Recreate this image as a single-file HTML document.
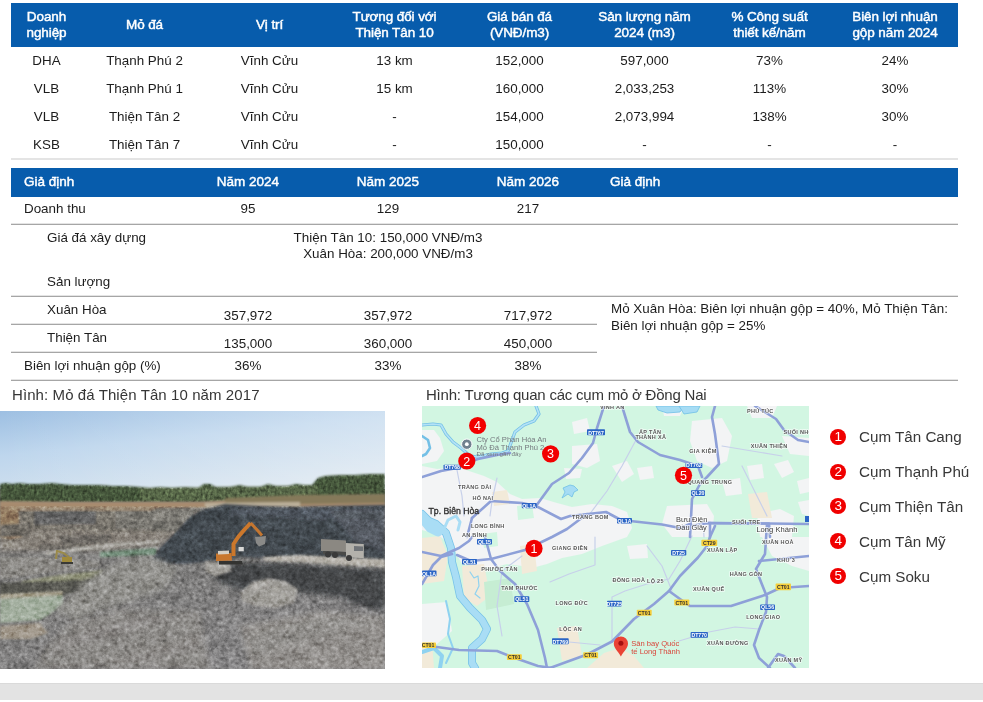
<!DOCTYPE html>
<html><head><meta charset="utf-8">
<style>
*{margin:0;padding:0;box-sizing:border-box}
html,body{width:983px;height:702px;overflow:hidden;background:#fff}
body{position:relative;font-family:"Liberation Sans",sans-serif;color:#1c1c1c;font-size:13.4px}
.a{position:absolute;white-space:nowrap}
.hd{position:absolute;background:#075cac;color:#fff;font-weight:700}
.c{position:absolute;text-align:center;white-space:nowrap}
.h1 .c{font-size:13.5px;letter-spacing:-0.1px;line-height:16px;font-weight:400;-webkit-text-stroke:0.45px #fff}
.ln{position:absolute;height:1px;background:#a6a6a6;box-shadow:0 -1px 0 #e4e4e4}
.cap{position:absolute;font-size:15px;color:#363636;white-space:nowrap}
.lg{position:absolute;left:830px;width:16.4px;height:16.4px;border-radius:50%;background:#f00000;color:#fff;font-size:13.5px;line-height:16.4px;text-align:center}
.lt{position:absolute;left:859px;font-size:15.2px;color:#383838;white-space:nowrap}
</style></head><body>

<!-- Table 1 header -->
<div class="hd h1" style="left:11px;top:3px;width:947px;height:44px">
  <div class="c" style="left:0;width:71px;top:6px">Doanh<br>nghiệp</div>
  <div class="c" style="left:71px;width:125px;top:14px">Mỏ đá</div>
  <div class="c" style="left:196px;width:125px;top:14px">Vị trí</div>
  <div class="c" style="left:321px;width:125px;top:6px">Tương đối với<br>Thiện Tân 10</div>
  <div class="c" style="left:446px;width:125px;top:6px">Giá bán đá<br>(VNĐ/m3)</div>
  <div class="c" style="left:571px;width:125px;top:6px">Sản lượng năm<br>2024 (m3)</div>
  <div class="c" style="left:696px;width:125px;top:6px">% Công suất<br>thiết kế/năm</div>
  <div class="c" style="left:821px;width:126px;top:6px">Biên lợi nhuận<br>gộp năm 2024</div>
</div>

<!-- Table 1 rows -->
<div id="t1" style="position:absolute;left:11px;top:47px;width:947px">
  <div style="position:absolute;top:0;height:28px;width:947px">
    <div class="c" style="left:0;width:71px;top:6px">DHA</div><div class="c" style="left:71px;width:125px;top:6px">Thạnh Phú 2</div><div class="c" style="left:196px;width:125px;top:6px">Vĩnh Cửu</div><div class="c" style="left:321px;width:125px;top:6px">13 km</div><div class="c" style="left:446px;width:125px;top:6px">152,000</div><div class="c" style="left:571px;width:125px;top:6px">597,000</div><div class="c" style="left:696px;width:125px;top:6px">73%</div><div class="c" style="left:821px;width:126px;top:6px">24%</div>
  </div>
  <div style="position:absolute;top:28px;height:28px;width:947px">
    <div class="c" style="left:0;width:71px;top:6px">VLB</div><div class="c" style="left:71px;width:125px;top:6px">Thạnh Phú 1</div><div class="c" style="left:196px;width:125px;top:6px">Vĩnh Cửu</div><div class="c" style="left:321px;width:125px;top:6px">15 km</div><div class="c" style="left:446px;width:125px;top:6px">160,000</div><div class="c" style="left:571px;width:125px;top:6px">2,033,253</div><div class="c" style="left:696px;width:125px;top:6px">113%</div><div class="c" style="left:821px;width:126px;top:6px">30%</div>
  </div>
  <div style="position:absolute;top:56px;height:28px;width:947px">
    <div class="c" style="left:0;width:71px;top:6px">VLB</div><div class="c" style="left:71px;width:125px;top:6px">Thiện Tân 2</div><div class="c" style="left:196px;width:125px;top:6px">Vĩnh Cửu</div><div class="c" style="left:321px;width:125px;top:6px">-</div><div class="c" style="left:446px;width:125px;top:6px">154,000</div><div class="c" style="left:571px;width:125px;top:6px">2,073,994</div><div class="c" style="left:696px;width:125px;top:6px">138%</div><div class="c" style="left:821px;width:126px;top:6px">30%</div>
  </div>
  <div style="position:absolute;top:84px;height:28px;width:947px">
    <div class="c" style="left:0;width:71px;top:6px">KSB</div><div class="c" style="left:71px;width:125px;top:6px">Thiện Tân 7</div><div class="c" style="left:196px;width:125px;top:6px">Vĩnh Cửu</div><div class="c" style="left:321px;width:125px;top:6px">-</div><div class="c" style="left:446px;width:125px;top:6px">150,000</div><div class="c" style="left:571px;width:125px;top:6px">-</div><div class="c" style="left:696px;width:125px;top:6px">-</div><div class="c" style="left:821px;width:126px;top:6px">-</div>
  </div>
</div>
<div class="ln" style="left:11px;top:159px;width:947px;background:#e4e4e4"></div>

<!-- Table 2 header -->
<div class="hd" style="left:11px;top:168px;width:947px;height:29px;font-size:13.5px;font-weight:400;-webkit-text-stroke:0.45px #fff">
  <div class="a" style="left:13px;top:6px">Giả định</div>
  <div class="c" style="left:167px;width:140px;top:6px">Năm 2024</div>
  <div class="c" style="left:307px;width:140px;top:6px">Năm 2025</div>
  <div class="c" style="left:447px;width:140px;top:6px">Năm 2026</div>
  <div class="a" style="left:599px;top:6px">Giả định</div>
</div>

<!-- Table 2 body -->
<div class="a" style="left:24px;top:201px">Doanh thu</div>
<div class="c" style="left:178px;width:140px;top:201px">95</div>
<div class="c" style="left:318px;width:140px;top:201px">129</div>
<div class="c" style="left:458px;width:140px;top:201px">217</div>
<div class="ln" style="left:11px;top:224px;width:947px"></div>

<div class="a" style="left:47px;top:230px">Giá đá xây dựng</div>
<div class="c" style="left:288px;width:200px;top:230px;line-height:16px">Thiện Tân 10: 150,000 VNĐ/m3<br>Xuân Hòa: 200,000 VNĐ/m3</div>
<div class="a" style="left:47px;top:274px">Sản lượng</div>
<div class="ln" style="left:11px;top:296px;width:947px"></div>

<div class="a" style="left:47px;top:302px">Xuân Hòa</div>
<div class="c" style="left:178px;width:140px;top:308px">357,972</div>
<div class="c" style="left:318px;width:140px;top:308px">357,972</div>
<div class="c" style="left:458px;width:140px;top:308px">717,972</div>
<div class="a" style="left:611px;top:301px;line-height:16.6px">Mỏ Xuân Hòa: Biên lợi nhuận gộp = 40%, Mỏ Thiện Tân:<br>Biên lợi nhuận gộp = 25%</div>
<div class="ln" style="left:11px;top:324px;width:586px"></div>

<div class="a" style="left:47px;top:330px">Thiện Tân</div>
<div class="c" style="left:178px;width:140px;top:336px">135,000</div>
<div class="c" style="left:318px;width:140px;top:336px">360,000</div>
<div class="c" style="left:458px;width:140px;top:336px">450,000</div>
<div class="ln" style="left:11px;top:352px;width:586px"></div>

<div class="a" style="left:24px;top:358px">Biên lợi nhuận gộp (%)</div>
<div class="c" style="left:178px;width:140px;top:358px">36%</div>
<div class="c" style="left:318px;width:140px;top:358px">33%</div>
<div class="c" style="left:458px;width:140px;top:358px">38%</div>
<div class="ln" style="left:11px;top:380px;width:947px"></div>

<!-- Captions -->
<div class="cap" style="left:12px;top:386px;letter-spacing:0.09px">Hình: Mỏ đá Thiện Tân 10 năm 2017</div>
<div class="cap" style="left:426px;top:386px;letter-spacing:-0.22px">Hình: Tương quan các cụm mỏ ở Đồng Nai</div>

<!-- PHOTO -->
<svg width="385" height="258" viewBox="0 0 385 258" style="position:absolute;left:0;top:411px">
<defs>
<linearGradient id="sky" x1="0" y1="0" x2="0.5" y2="1">
<stop offset="0" stop-color="#9dbfe2"/><stop offset="0.45" stop-color="#bed6ed"/><stop offset="1" stop-color="#d6e3ee"/>
</linearGradient>
<linearGradient id="skyr" x1="0" y1="0" x2="1" y2="0">
<stop offset="0" stop-color="#ffffff" stop-opacity="0"/><stop offset="1" stop-color="#ffffff" stop-opacity="0.3"/>
</linearGradient>
<linearGradient id="floor" x1="0" y1="0" x2="0.6" y2="1">
<stop offset="0" stop-color="#838280"/><stop offset="0.5" stop-color="#7c7b7a"/><stop offset="1" stop-color="#868586"/>
</linearGradient>
<filter id="gn" x="0" y="0" width="100%" height="100%" color-interpolation-filters="sRGB">
<feTurbulence type="fractalNoise" baseFrequency="0.28" numOctaves="3" seed="4"/>
<feColorMatrix type="matrix" values="0.55 0.55 0.55 0 -0.325  0.55 0.55 0.55 0 -0.325  0.55 0.55 0.55 0 -0.325  0 0 0 0 1"/>
</filter>
<filter id="gn2" x="0" y="0" width="100%" height="100%" color-interpolation-filters="sRGB">
<feTurbulence type="fractalNoise" baseFrequency="0.1" numOctaves="2" seed="9"/>
<feColorMatrix type="matrix" values="0.5 0.5 0.5 0 -0.25  0.5 0.5 0.5 0 -0.25  0.5 0.5 0.5 0 -0.25  0 0 0 0 1"/>
</filter>
<filter id="tn" x="0" y="0" width="100%" height="100%" color-interpolation-filters="sRGB">
<feTurbulence type="fractalNoise" baseFrequency="0.35 0.28" numOctaves="2" seed="5"/>
<feColorMatrix type="matrix" values="0.6 0.6 0.6 0 -0.4  0.6 0.6 0.6 0 -0.4  0.6 0.6 0.6 0 -0.4  0 0 0 0 1"/><feComposite in2="SourceGraphic" operator="in"/>
</filter>
<filter id="bl"><feGaussianBlur stdDeviation="1"/></filter>
<filter id="bl2"><feGaussianBlur stdDeviation="2.5"/></filter>
<clipPath id="qc"><rect x="0" y="95" width="385" height="163"/></clipPath>
<clipPath id="tc"><path d="M0 73 L6 72 L12 73 L20 72 L28 73 L40 73 L52 72 L60 73 L72 74 L85 74 L100 74 L112 75 L125 75 L140 76 L150 77 L160 76 L172 77 L185 76 L198 77 L204 73 L210 73 L216 76 L230 76 L240 74 L248 76 L260 76 L268 73 L276 75 L288 75 L296 73 L304 74 L312 74 L318 67 L325 65 L340 64 L355 64 L370 63 L385 63 L385 84 L320 86 L250 88 L230 90 L200 91 L150 91 L100 91 L50 91 L0 91 Z"/></clipPath>
</defs>
<!-- sky -->
<rect x="0" y="0" width="385" height="80" fill="url(#sky)"/>
<rect x="0" y="0" width="385" height="80" fill="url(#skyr)"/>
<!-- quarry floor base -->
<rect x="0" y="78" width="385" height="180" fill="url(#floor)"/>
<!-- trees band -->
<g filter="url(#bl)">
<path d="M0 73 L6 72 L12 73 L20 72 L28 73 L40 73 L52 72 L60 73 L72 74 L85 74 L100 74 L112 75 L125 75 L140 76 L150 77 L160 76 L172 77 L185 76 L198 77 L204 73 L210 73 L216 76 L230 76 L240 74 L248 76 L260 76 L268 73 L276 75 L288 75 L296 73 L304 74 L312 74 L318 67 L325 65 L340 64 L355 64 L370 63 L385 63 L385 84 L320 86 L250 88 L230 90 L200 91 L150 91 L100 91 L50 91 L0 91 Z" fill="#44573a"/>
<path d="M140 77 L318 74 L318 90 L140 91 Z" fill="#6d7b58" opacity="0.45"/>
</g>
<path d="M0 73 L6 72 L12 73 L20 72 L28 73 L40 73 L52 72 L60 73 L72 74 L85 74 L100 74 L112 75 L125 75 L140 76 L150 77 L160 76 L172 77 L185 76 L198 77 L204 73 L210 73 L216 76 L230 76 L240 74 L248 76 L260 76 L268 73 L276 75 L288 75 L296 73 L304 74 L312 74 L318 67 L325 65 L340 64 L355 64 L370 63 L385 63 L385 84 L320 86 L250 88 L230 90 L200 91 L150 91 L100 91 L50 91 L0 91 Z" fill="#fff" filter="url(#tn)" style="mix-blend-mode:overlay" opacity="0.55"/>
<!-- brown scrub band -->
<g filter="url(#bl)">
<path d="M0 90 L60 91 L130 91 L200 91 L250 88 L300 86 L385 85 L385 95 L300 96 L250 97 L200 97 L150 97 L100 97 L40 97 L0 97 Z" fill="#a88c70"/>
<path d="M225 87 L300 84 L385 83 L385 92 L300 93 L225 94 Z" fill="#85795a"/>
<path d="M0 96 L18 96 L20 118 L22 126 L10 128 L0 126 Z" fill="#947d62"/>
<path d="M205 92 L300 91 L300 98 L205 99 Z" fill="#bcb09a"/>
</g>
<!-- back wall of quarry -->
<g filter="url(#bl)">
<path d="M20 99 L200 97 L215 99 L205 110 L190 122 L120 121 L60 120 L20 118 Z" fill="#727270"/>
<path d="M34 100 L96 99 L96 113 L34 114 Z" fill="#575d65"/>
<path d="M115 99 L195 98 L190 118 L170 120 L115 118 Z" fill="#727475"/>
<path d="M0 114 L30 112 L30 125 L0 126 Z" fill="#5e6061"/>
<path d="M60 125 L110 124 L108 132 L62 133 Z" fill="#5f6162"/>
<path d="M40 133 L90 135 L80 142 L40 141 Z" fill="#6a6b6b"/>
</g>
<path d="M0 96 L200 96 L190 120 L160 135 L100 140 L0 140 Z" fill="#9a8468" opacity="0.22" filter="url(#bl2)"/>
<path d="M0 96 L160 96 L150 100 L0 100 Z" fill="#a08a70" opacity="0.7" filter="url(#bl)"/>
<!-- light road (upper-left) & pools -->
<g filter="url(#bl)">
<path d="M44 141 L80 136 L120 132 L160 129 L160 132 L120 135 L80 140 L46 144 Z" fill="#b3b1ab"/>
<path d="M0 163 L30 156 L60 150 L60 153 L30 160 L0 167 Z" fill="#9d9b96"/>
<path d="M100 141 L156 137 L157 144 L100 146 Z" fill="#748f7b"/>
<path d="M0 146 L40 146 L70 148 L100 150 L100 156 L60 160 L20 166 L0 168 Z" fill="#8c8a86"/>
<path d="M22 170 L60 164 L103 159 L103 167 L60 171 L22 176 Z" fill="#90927a"/>
<path d="M0 172 L22 171 L60 170 L100 168 L90 180 L60 184 L30 186 L0 186 Z" fill="#54544f"/>
</g>
<!-- big water pool -->
<g filter="url(#bl)">
<path d="M0 188 L30 186 L63 184 L63 194 L50 203 L40 209 L0 212 Z" fill="#a2ae9e"/>
<path d="M0 183 L63 180 L63 184 L0 188 Z" fill="#aba593"/>
<path d="M0 215 L40 212 L48 222 L30 228 L0 228 Z" fill="#a0978a"/>
</g>
<!-- dark cliff -->
<g filter="url(#bl)">
<path d="M150 152 L160 137 L175 122 L190 106 L205 98 L225 93 L260 95 L300 96 L340 95 L385 94 L385 152 L340 147 L300 146 L265 147 L240 146 L215 150 L185 153 Z" fill="#434850"/>
<path d="M230 97 L385 96 L385 110 L300 108 L230 104 Z" fill="#545a62" opacity="0.8"/>
<path d="M330 100 L385 99 L385 140 L355 130 Z" fill="#575d65" opacity="0.8"/>
</g>
<!-- rubble pile middle -->
<g filter="url(#bl2)">
<path d="M55 200 L80 175 L100 160 L120 150 L140 145 L160 148 L178 158 L165 178 L130 190 L100 200 L75 210 Z" fill="#8f8e8a"/>
</g>
<!-- road right -->
<g filter="url(#bl)">
<path d="M262 146 L300 144 L340 146 L385 148 L385 157 L340 155 L300 152 L265 151 Z" fill="#b7b3ab"/>
</g>
<!-- shadow under road -->
<g filter="url(#bl2)">
<path d="M215 153 L265 152 L300 153 L340 156 L385 158 L385 200 L362 195 L340 186 L300 181 L270 177 L240 179 L222 172 L210 163 Z" fill="#44464a"/>
</g>
<g filter="url(#bl)">
<path d="M240 182 L252 171 L268 167 L285 170 L298 178 L294 192 L276 197 L255 195 L242 190 Z" fill="#9b9994"/>
<circle cx="256" cy="176" r="3" fill="#b3b1ac"/><circle cx="266" cy="174" r="3.2" fill="#aeaca7"/><circle cx="276" cy="178" r="3" fill="#b5b3ae"/><circle cx="262" cy="184" r="3" fill="#a7a5a0"/><circle cx="284" cy="184" r="2.6" fill="#acaaa5"/><circle cx="272" cy="188" r="2.6" fill="#a09e99"/>
<path d="M205 150 L228 150 L232 160 L215 166 L205 160 Z" fill="#9c9a95"/>
</g>
<!-- lower floor lighter regions -->
<g filter="url(#bl2)" opacity="0.7">
<path d="M240 215 L320 200 L385 205 L385 258 L250 258 Z" fill="#96938e"/>
<path d="M45 236 L70 212 L120 198 L200 200 L210 258 L35 258 Z" fill="#908d89"/>
</g>
<!-- noise texture -->
<rect x="0" y="95" width="385" height="163" filter="url(#gn2)" style="mix-blend-mode:overlay" opacity="0.3"/>
<rect x="0" y="95" width="385" height="163" filter="url(#gn)" style="mix-blend-mode:overlay" opacity="0.38"/>
<!-- excavator (orange) -->
<g>
<path d="M219 150 L242 150 L243 153.5 L219 153.5 Z" fill="#333331"/>
<path d="M216 142.5 L231.5 142 L232 149.5 L216 150 Z" fill="#c8772e"/>
<path d="M218 140 L229 139.5 L229 143 L218 143.5 Z" fill="#d5cfc4"/>
<path d="M233.5 145 L233.5 133 L238.5 125.5 L245 118 L250.6 112" stroke="#cc782c" stroke-width="4" fill="none" stroke-linejoin="round"/>
<path d="M250.6 112 L256.3 118 L262 124.6" stroke="#c47630" stroke-width="3" fill="none" stroke-linejoin="round"/>
<path d="M255 126 L266 125 L265 133 L259 135.5 L256 132 Z" fill="#8a8a88"/>
<path d="M238.5 136 L243.8 136 L243.8 140.3 L238.5 140.3 Z" fill="#d8d8d6"/>
</g>
<!-- small yellow excavator left -->
<path d="M55 148 L56 139 L58 139 L57 148 Z" fill="#9a8a4a"/><path d="M57 139 L64 141 L70 146 L69 147 L63 143 L57 141 Z" fill="#9a8a4a"/><path d="M62 146 L72 146 L72 151 L62 151 Z" fill="#a08a3a"/><path d="M61 151 L73 151 L73 153 L61 153 Z" fill="#3a3a36"/>
<!-- truck -->
<g>
<path d="M321 128 L346 129.5 L346 141 L321 140 Z" fill="#8b8882"/>
<path d="M345.9 132 L363.8 133 L363.8 147.2 L345.9 146 Z" fill="#b3b1ab"/>
<path d="M354 135 L363 135.5 L363 140 L354 140 Z" fill="#6f7377"/>
<path d="M323 140 L346 141 L346 144 L323 143 Z" fill="#4a4a48"/>
<circle cx="328" cy="143.5" r="3" fill="#3a3a3a"/><circle cx="335" cy="144" r="3" fill="#3a3a3a"/><circle cx="349" cy="147" r="3" fill="#3a3a3a"/>
</g>
</svg>

<!-- MAP -->
<svg width="387" height="262" viewBox="0 0 387 262" style="position:absolute;left:422px;top:406px;font-family:'Liberation Sans',sans-serif">
<defs>
<filter id="mb"><feGaussianBlur stdDeviation="0.5"/></filter>
</defs>
<rect width="387" height="262" fill="#d2f6e2"/>
<g filter="url(#mb)">
<!-- white / urban areas -->
<g fill="#f3f4f5">
<path d="M0 60 L15 63 L35 61 L50 66 L62 70 L75 76 L88 88 L100 93 L118 92 L135 97 L150 101 L170 98 L190 100 L205 106 L210 122 L205 131 L180 140 L160 148 L140 152 L125 158 L110 162 L100 160 L85 158 L70 162 L55 160 L40 158 L30 140 L15 128 L0 124 Z"/>
<path d="M0 24 L12 24 L18 32 L22 45 L15 55 L0 58 Z"/>
<path d="M150 40 L175 38 L178 55 L165 62 L150 58 Z"/>
<path d="M142 62 L160 63 L158 72 L144 73 Z"/>
<path d="M245 100 L285 98 L292 110 L290 131 L250 131 L240 118 Z"/>
<path d="M270 15 L300 12 L310 30 L305 55 L290 62 L275 55 L268 35 Z"/>
<path d="M335 108 L358 103 L372 110 L370 131 L338 131 Z"/><path d="M376 96 L387 94 L387 110 L380 108 Z"/>
<path d="M352 58 L366 54 L372 66 L360 72 Z"/><path d="M375 75 L387 72 L387 86 L378 88 Z"/>
<path d="M340 131 L387 131 L387 165 L370 160 L350 150 Z"/>
<path d="M240 0 L262 0 L258 10 L242 10 Z"/>
<path d="M325 0 L355 0 L350 12 L330 12 Z"/>
<path d="M0 198 L25 196 L30 225 L15 238 L0 238 Z"/>
<path d="M190 60 L205 55 L212 68 L200 76 Z"/>
<path d="M215 62 L230 60 L232 72 L218 74 Z"/>
<path d="M300 75 L318 72 L320 88 L304 90 Z"/>
<path d="M325 60 L340 58 L342 72 L328 74 Z"/>
<path d="M360 30 L387 32 L387 50 L368 48 Z"/>
<path d="M205 140 L225 138 L226 152 L208 153 Z"/>
<path d="M150 16 L165 12 L168 25 L152 28 Z"/>
</g>
<!-- green patches inside urban -->
<g fill="#d2f6e2">
<path d="M95 100 L110 98 L112 112 L96 114 Z"/>
<path d="M60 128 L75 126 L76 140 L62 142 Z"/>
</g>
<!-- beige areas -->
<g fill="#f2ead9">
<path d="M165 262 L182 247 L198 242 L212 250 L222 262 Z"/>
<path d="M40 160 L62 158 L68 190 L55 200 L42 192 Z"/>
<path d="M0 132 L18 130 L26 150 L22 175 L0 178 Z"/>
<path d="M98 140 L112 138 L115 165 L100 168 Z"/>
<path d="M326 88 L345 86 L350 112 L330 112 Z"/>
<path d="M135 222 L155 220 L160 250 L140 255 Z"/>
<path d="M70 86 L85 84 L88 98 L72 100 Z"/>
<path d="M0 238 L10 236 L12 262 L0 262 Z"/>
</g>
<path d="M62 176 L88 172 L92 198 L64 204 Z" fill="#c6edd3"/>
</g>
<!-- water -->
<g fill="#a6dcf4" stroke="#6fbfe6" stroke-width="0.8">
<path d="M234 0 L262 0 L258 6 L245 7 L236 4 Z"/>
<path d="M257 0 L278 0 L275 6 L262 8 Z"/>
<path d="M141 82 L148 79 L152 80 L156 84 L152 86 L150 91 L146 88 L140 92 L143 86 Z"/>
</g>
<g fill="none" stroke-linecap="round" stroke-linejoin="round">
<!-- rivers -->
<path d="M0 19 L11 18 L19 19 L24 28 L31 36 L39 42 L48 50 L56 51 L69 48 L80 47 L86 45 L93 26 L102 19 L112 15 L117 8 L114 0" stroke="#74c0e6" stroke-width="3.2"/>
<path d="M0 19 L11 18 L19 19 L24 28 L31 36 L39 42 L48 50 L56 51 L69 48 L80 47 L86 45 L93 26 L102 19 L112 15 L117 8 L114 0" stroke="#b4e2f6" stroke-width="1.6"/>
<path d="M0 30 L6 34 L8 42 L4 48 L0 50" stroke="#74c0e6" stroke-width="2.6"/>
<path d="M0 108 L7 115 L14 118 L24 127 L29 142 L30 156 L34 171 L38 190 L48 202 L60 214 L65 223 L60 233 L50 242 L50 257 L53 262" stroke="#78c3e8" stroke-width="8"/>
<path d="M0 108 L7 115 L14 118 L24 127 L29 142 L30 156 L34 171 L38 190 L48 202 L60 214 L65 223 L60 233 L50 242 L50 257 L53 262" stroke="#a9ddf5" stroke-width="6.4"/>
<path d="M0 112 L8 122 L16 126" stroke="#a9ddf5" stroke-width="9"/>
<path d="M22 123 L26 114 L34 110 L38 116 L36 124" stroke="#a9ddf5" stroke-width="3"/>
<path d="M24 195 L28 213 L26 228 L31 242 L24 257" stroke="#8fd2f0" stroke-width="2"/>
<path d="M0 246 L12 242 L20 250 L18 262" stroke="#8fd2f0" stroke-width="4"/>
<path d="M48 166 L52 172 L56 170 L57 180 L53 188 L58 192" stroke="#8fd2f0" stroke-width="1.2"/>
<!-- minor roads -->
<g stroke="#c7d0ea" stroke-width="1.2">
<path d="M214 34 L200 60 L185 85 L170 105 L165 112"/>
<path d="M190 236 L190 191 L203 185 L225 178 L247 173 L258 155 L270 130"/>
<path d="M173 131 L173 159 L147 168 L128 176"/>
<path d="M147 236 L178 239"/>
<path d="M257 235 L287 226 L313 221 L337 223"/>
<path d="M281 116 L282 131"/>
<path d="M288 117 L288 131"/>
<path d="M35 64 L40 90 L42 110"/>
<path d="M75 72 L70 95 L68 110"/>
<path d="M100 150 L80 165 L75 200 L80 230"/>
<path d="M225 140 L240 160 L250 185"/>
<path d="M300 40 L330 45 L360 50"/>
<path d="M320 60 L330 80 L345 110"/>
</g>
<!-- major roads -->
<g stroke="#8ea0d8" stroke-width="2.6">
<!-- DT768 -->
<path d="M0 71 L19 65 L35 62 L47 56 L56 53 L75 49 L88 47"/>
<!-- QL1A -->
<path d="M50 112 L69 95 L100 97 L114 100 L139 113 L148 110 L184 106 L199 114 L240 118.5 L258 122 L270 120 L285 117 L347 117.5 L387 118"/>
<path d="M50 112 L45 131"/>
<!-- road north from QL1A -->
<path d="M114 100 L130 78 L147 67 L160 52 L171 37 L175 22 L182 0"/>
<!-- road to Gia Kiem -->
<path d="M200 0 L208 26 L216 36 L238 49 L258 54 L276 60 L280 71"/>
<path d="M293 0 L290 11 L293 28 L297 58 L285 71 L278 78 L270 93 L268 131"/>
<!-- top right -->
<path d="M333 0 L354 13 L362 24 L376 34 L387 36"/>
<!-- Suoi Tre road -->
<path d="M258 122 L268 118"/>
<path d="M281 117 L347 117.5 L348 131"/>
<path d="M288 117 L288 131"/>
<!-- QL51 & others lower-left -->
<path d="M0 146 L19 150 L37 142 L47 135 L50 131"/>
<path d="M0 178 L11 159 L19 151 L30 148"/>
<path d="M35 149 L49 155 L69 153 L103 144 L130 131 L145 123 L165 108"/>
<path d="M69 153 L78 165 L93 178 L105 198 L116 224 L123 252 L125 262"/>
<path d="M63 131 L69 153"/>
<!-- CT01 south-west -->
<path d="M0 239 L37 244 L75 245 L93 252 L116 260 L130 262"/>
<!-- big diagonal expressway -->
<path d="M128 262 L165 248.5 L190 235.5 L212 213 L232 198 L247 185 L258 170 L276 151.5 L285 140 L288 131 L293 120"/>
<path d="M247 185 L258 193 L268 200 L309 200 L343 189 L358 182 L387 180"/>
<!-- QL56 -->
<path d="M345 118 L343 148 L334 163 L339 176 L345 191 L344 206 L337 224 L332 239 L337 252 L348 262"/>
<path d="M337 155 L387 150"/>
<path d="M346 262 L356 248 L362 250 L373 262"/>
</g>
</g>
<!-- shields -->
<g font-size="5.2" font-weight="700" text-anchor="middle">
<rect x="21.5" y="58.8" width="17.3" height="5" rx="0.8" fill="#2a64c5"/><text x="30.2" y="63.2" fill="#fff">DT768</text>
<rect x="165" y="23.3" width="18" height="6" rx="0.8" fill="#2a64c5"/><text x="174" y="28.6" fill="#fff">DT767</text>
<rect x="99.8" y="97" width="14.9" height="5.3" rx="0.8" fill="#2a64c5"/><text x="107.2" y="101.8" fill="#fff">QL1A</text>
<rect x="195" y="112" width="15" height="5.5" rx="0.8" fill="#2a64c5"/><text x="202.5" y="116.9" fill="#fff">QL1A</text>
<rect x="263.5" y="57" width="16.8" height="5" rx="0.8" fill="#2a64c5"/><text x="271.9" y="61.4" fill="#fff">DT762</text>
<rect x="269" y="84.3" width="14" height="5.7" rx="0.8" fill="#2a64c5"/><text x="276" y="89.3" fill="#fff">QL20</text>
<rect x="55" y="132.9" width="15" height="5.6" rx="0.8" fill="#2a64c5"/><text x="62.5" y="137.8" fill="#fff">QL15</text>
<rect x="40" y="153" width="15" height="5.6" rx="0.8" fill="#2a64c5"/><text x="47.5" y="157.9" fill="#fff">QL51</text>
<rect x="0" y="164.6" width="14.5" height="5.6" rx="0.8" fill="#2a64c5"/><text x="7" y="169.5" fill="#fff">QL1A</text>
<rect x="92.4" y="190.3" width="14.9" height="5.7" rx="0.8" fill="#2a64c5"/><text x="99.8" y="195.2" fill="#fff">QL51</text>
<rect x="185" y="194.8" width="14.8" height="5.6" rx="0.8" fill="#2a64c5"/><text x="192.4" y="199.7" fill="#fff">DT725</text>
<rect x="130" y="232.3" width="16.7" height="6" rx="0.8" fill="#2a64c5"/><text x="138.3" y="237.5" fill="#fff">DT769</text>
<rect x="249" y="143.9" width="15.3" height="5.6" rx="0.8" fill="#2a64c5"/><text x="256.6" y="148.8" fill="#fff">DT25</text>
<rect x="338.2" y="198.5" width="14.8" height="5.6" rx="0.8" fill="#2a64c5"/><text x="345.6" y="203.4" fill="#fff">QL56</text>
<rect x="268.6" y="226.1" width="17.3" height="5.6" rx="0.8" fill="#2a64c5"/><text x="277.2" y="231" fill="#fff">DT770</text>
<rect x="383" y="110" width="4" height="6" fill="#2a64c5"/>
<rect x="0" y="236.4" width="14" height="5.6" rx="0.8" fill="#f6cf3c"/><text x="6" y="241.3" fill="#333">CT01</text>
<rect x="84.9" y="248.2" width="14.9" height="5.8" rx="0.8" fill="#f6cf3c"/><text x="92.3" y="253.2" fill="#333">CT01</text>
<rect x="161.2" y="246.3" width="14.9" height="6" rx="0.8" fill="#f6cf3c"/><text x="168.6" y="251.4" fill="#333">CT01</text>
<rect x="214.8" y="203.8" width="14.9" height="5.9" rx="0.8" fill="#f6cf3c"/><text x="222.2" y="208.9" fill="#333">CT01</text>
<rect x="279.4" y="133.8" width="15.8" height="6.2" rx="0.8" fill="#f6cf3c"/><text x="287.3" y="139.1" fill="#333">CT29</text>
<rect x="353.6" y="177.6" width="15.4" height="6.6" rx="0.8" fill="#f6cf3c"/><text x="361.3" y="183.2" fill="#333">CT01</text>
<rect x="252.3" y="193.5" width="15" height="6.1" rx="0.8" fill="#f6cf3c"/><text x="259.8" y="198.6" fill="#333">CT01</text>
</g>
<!-- place labels -->
<g font-size="5.5" font-weight="700" fill="#575757" letter-spacing="0.3" stroke="#ffffff" stroke-width="1.4" paint-order="stroke" stroke-opacity="0.7">
<text x="178" y="3">VĨNH AN</text>
<text x="325" y="6.5">PHÚ TÚC</text>
<text x="361.5" y="28">SUỐI NHO</text>
<text x="217" y="27.6">ẤP TÂN</text>
<text x="213.4" y="32.8">THÀNH XÃ</text>
<text x="328.8" y="42">XUÂN THIỆN</text>
<text x="267.3" y="46.6">GIA KIỆM</text>
<text x="265.4" y="78.4">QUANG TRUNG</text>
<text x="36" y="83.4">TRẢNG DÀI</text>
<text x="50.4" y="94.2">HỐ NAI</text>
<text x="150" y="112.5">TRẢNG BOM</text>
<text x="310" y="118.2">SUỐI TRE</text>
<text x="48.9" y="122.2">LONG BÌNH</text>
<text x="40" y="130.6">AN BÌNH</text>
<text x="340" y="137.5">XUÂN HOÀ</text>
<text x="130" y="144.4">GIANG ĐIỀN</text>
<text x="285" y="145.6">XUÂN LẬP</text>
<text x="355" y="156.2">KHU 3</text>
<text x="59.3" y="164.6">PHƯỚC TÂN</text>
<text x="307.7" y="169.8">HÀNG GÒN</text>
<text x="190.5" y="176.3">ĐỒNG HOÀ</text>
<text x="225" y="177.3">LỘ 25</text>
<text x="79.3" y="183.6">TAM PHƯỚC</text>
<text x="271" y="185.1">XUÂN QUẾ</text>
<text x="133.6" y="199.1">LONG ĐỨC</text>
<text x="324.2" y="212.7">LONG GIAO</text>
<text x="137.3" y="225.2">LỘC AN</text>
<text x="285" y="239.2">XUÂN ĐƯỜNG</text>
<text x="353" y="256">XUÂN MỸ</text>
</g>
<g font-size="8.6" fill="#3c3c3c" stroke="#ffffff" stroke-width="1.8" paint-order="stroke" stroke-opacity="0.7">
<text x="6.5" y="107.5" font-size="8.7" stroke="#333" stroke-width="0.35" stroke-opacity="1" paint-order="fill" fill="#333">Tp. Biên Hòa</text>
<text x="254" y="115.7" font-size="7.4">Bưu Điện</text>
<text x="254" y="124" font-size="7.4">Dầu Giây</text>
<text x="334.4" y="126" font-size="7.6">Long Khánh</text>
</g>
<g font-size="7.6" fill="#74797e">
<text x="54.5" y="35.8">Cty Cổ Phần Hóa An</text>
<text x="54.5" y="43.6">Mỏ Đá Thạnh Phú 2</text>
<text x="54.5" y="50.4" font-size="6.2">Đã xem gần đây</text>
</g>
<!-- gray pin -->
<circle cx="44.8" cy="38.2" r="5.2" fill="#70808e" stroke="#fff" stroke-width="1"/>
<circle cx="44.8" cy="38.2" r="1.9" fill="#fff"/>
<!-- airport pin -->
<path d="M198.9 250.5 C196 245 191.8 242 191.8 237.5 A7.1 7.1 0 1 1 206 237.5 C206 242 201.8 245 198.9 250.5 Z" fill="#ea4335"/>
<circle cx="198.9" cy="237.3" r="2.5" fill="#a50e0e"/>
<g font-size="7.6" fill="#d9453a">
<text x="209.2" y="240.1">Sân bay Quốc</text>
<text x="209.2" y="247.8">tế Long Thành</text>
</g>
<!-- red numbered markers -->
<g font-size="12.5" fill="#fff" text-anchor="middle">
<circle cx="112" cy="142.4" r="8.6" fill="#f20000"/><text x="112" y="147">1</text>
<circle cx="44.8" cy="55" r="8.6" fill="#f20000"/><text x="44.8" y="59.6">2</text>
<circle cx="128.6" cy="47.8" r="8.6" fill="#f20000"/><text x="128.6" y="52.4">3</text>
<circle cx="55.6" cy="19.5" r="8.6" fill="#f20000"/><text x="55.6" y="24.1">4</text>
<circle cx="261.5" cy="69.3" r="8.6" fill="#f20000"/><text x="261.5" y="73.9">5</text>
</g>
</svg>

<!-- Legend -->
<div class="lg" style="top:429px">1</div><div class="lt" style="top:427.5px">Cụm Tân Cang</div>
<div class="lg" style="top:464px">2</div><div class="lt" style="top:462.5px">Cụm Thạnh Phú</div>
<div class="lg" style="top:498px">3</div><div class="lt" style="top:497.5px">Cụm Thiện Tân</div>
<div class="lg" style="top:533px">4</div><div class="lt" style="top:532.5px">Cụm Tân Mỹ</div>
<div class="lg" style="top:568px">5</div><div class="lt" style="top:567.5px">Cụm Soku</div>

<!-- bottom bar -->
<div style="position:absolute;left:0;top:683px;width:983px;height:17px;background:#e3e3e3;border-top:1px solid #dadada"></div>
</body></html>
